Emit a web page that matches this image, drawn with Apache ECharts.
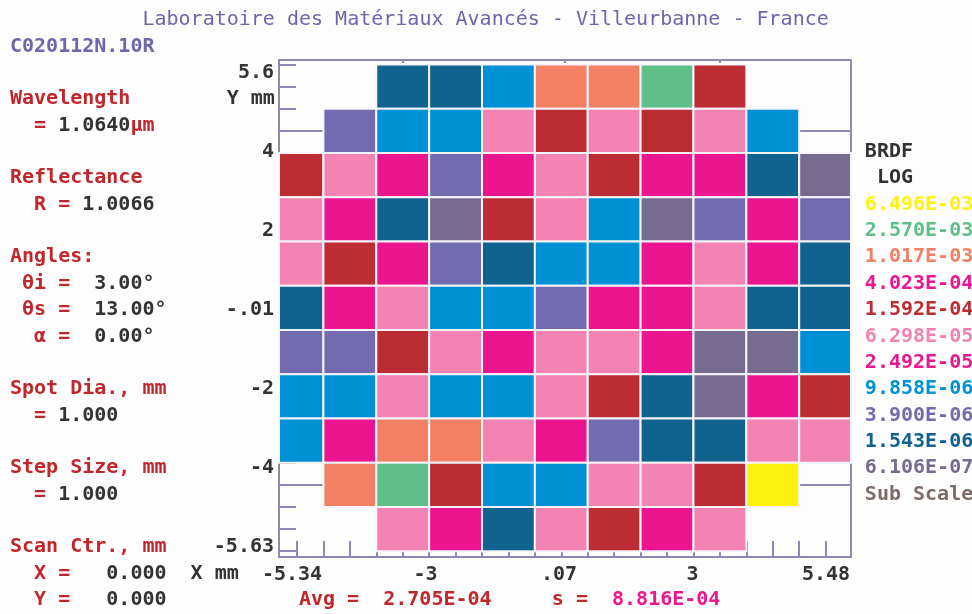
<!DOCTYPE html>
<html>
<head>
<meta charset="utf-8">
<script src="https://cdn.jsdelivr.net/npm/echarts@6/dist/echarts.min.js"></script>
<style>
html,body{margin:0;padding:0;background:#fdfdfd;}
#c{width:972px;height:614px;}
</style>
</head>
<body>
<div id="c"></div>
<script>
// ---------------- data ----------------
const xCenters = [-5, -4, -3, -2, -1, 0, 1, 2, 3, 4, 5];   // mm
const yCenters = [5, 4, 3, 2, 1, 0, -1, -2, -3, -4, -5];   // mm (top row first)

// BRDF values per row (top row y=5 first), null = not measured
const row_y5  = [null, null, 1.543e-6, 1.543e-6, 9.858e-6, 1.017e-3, 1.017e-3, 2.570e-3, 1.592e-4, null, null];
const row_y4  = [null, 3.900e-6, 9.858e-6, 9.858e-6, 6.298e-5, 1.592e-4, 6.298e-5, 1.592e-4, 6.298e-5, 9.858e-6, null];
const row_y3  = [1.592e-4, 6.298e-5, 4.023e-4, 3.900e-6, 4.023e-4, 6.298e-5, 1.592e-4, 4.023e-4, 4.023e-4, 1.543e-6, 6.106e-7];
const row_y2  = [6.298e-5, 4.023e-4, 1.543e-6, 6.106e-7, 1.592e-4, 6.298e-5, 9.858e-6, 6.106e-7, 3.900e-6, 4.023e-4, 3.900e-6];
const row_y1  = [6.298e-5, 1.592e-4, 4.023e-4, 3.900e-6, 1.543e-6, 9.858e-6, 9.858e-6, 4.023e-4, 6.298e-5, 4.023e-4, 1.543e-6];
const row_y0  = [1.543e-6, 4.023e-4, 6.298e-5, 9.858e-6, 9.858e-6, 3.900e-6, 4.023e-4, 4.023e-4, 6.298e-5, 1.543e-6, 1.543e-6];
const row_ym1 = [3.900e-6, 3.900e-6, 1.592e-4, 6.298e-5, 4.023e-4, 6.298e-5, 6.298e-5, 4.023e-4, 6.106e-7, 6.106e-7, 9.858e-6];
const row_ym2 = [9.858e-6, 9.858e-6, 6.298e-5, 9.858e-6, 9.858e-6, 6.298e-5, 1.592e-4, 1.543e-6, 6.106e-7, 4.023e-4, 1.592e-4];
const row_ym3 = [9.858e-6, 4.023e-4, 1.017e-3, 1.017e-3, 6.298e-5, 4.023e-4, 3.900e-6, 1.543e-6, 1.543e-6, 6.298e-5, 6.298e-5];
const row_ym4 = [null, 1.017e-3, 2.570e-3, 1.592e-4, 9.858e-6, 9.858e-6, 6.298e-5, 6.298e-5, 1.592e-4, 6.496e-3, null];
const row_ym5 = [null, null, 6.298e-5, 4.023e-4, 1.543e-6, 6.298e-5, 1.592e-4, 4.023e-4, 6.298e-5, null, null];
const rows = [row_y5, row_y4, row_y3, row_y2, row_y1, row_y0, row_ym1, row_ym2, row_ym3, row_ym4, row_ym5];

// log legend levels
const levelValues = [6.496e-3, 2.570e-3, 1.017e-3, 4.023e-4, 1.592e-4, 6.298e-5, 2.492e-5, 9.858e-6, 3.900e-6, 1.543e-6, 6.106e-7];
const levelLabels = ['6.496E-03', '2.570E-03', '1.017E-03', '4.023E-04', '1.592E-04', '6.298E-05', '2.492E-05', '9.858E-06', '3.900E-06', '1.543E-06', '6.106E-07'];
const levelColors = ['#fff10f', '#5fbf89', '#f38063', '#ec1590', '#bb2d32', '#f283b2', '#e8188f', '#0090d6', '#736bb0', '#10628f', '#776c8f'];

// axes
const xRange = [-5.34, 5.48];
const yRange = [-5.63, 5.6];
const xTickLabels = ['-5.34', '-3', '.07', '3', '5.48'];
const yTickLabels = ['-5.63', '-4', '-2', '-.01', '2', '4', '5.6'];
const xMinorTicks = [-5, -4.5, -4, -3.5, -3, -2.5, -2, -1.5, -1, -0.5, 0, 0.5, 1, 1.5, 2, 2.5, 3, 3.5, 4, 4.5, 5];
const yMinorTicks = [-5.5, -5, -4.5, -4, -3.5, -3, -2.5, -2, -1.5, -1, -0.5, 0, 0.5, 1, 1.5, 2, 2.5, 3, 3.5, 4, 4.5, 5, 5.5];
const yMajorTicks = [-4, 4];
const xTopTicks = [-3, 0.07, 3];

// ---------------- build ----------------
const FONT = "'DejaVu Sans Mono', 'Liberation Mono', monospace";
const FRAME = '#8f87b3';
const RED = '#c0272d', DARK = '#333333', PURP = '#6d66ab', MAG = '#e8188f';

function colorOf(v) {
  for (let i = 0; i < levelValues.length; i++) {
    if (v >= levelValues[i] * 0.999) return levelColors[i];
  }
  return '#7d6d69';
}

const cells = [];
rows.forEach((row, r) => {
  row.forEach((v, c) => {
    if (v !== null) cells.push([xCenters[c], yCenters[r], v]);
  });
});

const chart = echarts.init(document.getElementById('c'), null, {renderer: 'canvas'});

const CW = 12.04, LH = 26.36;
function rs(c, w) { return {fill: c, color: c, fontFamily: FONT, fontSize: 20, fontWeight: w || 'bold'}; }
const RICH = {r: rs(RED), k: rs(DARK), p: rs(PURP), m: rs(MAG), t0: rs(PURP, 'normal')};
function line(col, ln, text) {
  return {
    type: 'text', x: 10 + col * CW, y: 20 + ln * LH, z: 10,
    style: {text: text, rich: RICH, fontFamily: FONT, fontSize: 20, fill: DARK, textVerticalAlign: 'middle', verticalAlign: 'middle'}
  };
}

const graphics = [
  line(11, 0, '{t0|Laboratoire des Matériaux Avancés - Villeurbanne - France}'),
  line(0, 1, '{p|C020112N.10R}'),
  line(0, 3, '{r|Wavelength}'),
  line(0, 4, '{r|  = }{k|1.0640}{r|μm}'),
  line(0, 6, '{r|Reflectance}'),
  line(0, 7, '{r|  R = }{k|1.0066}'),
  line(0, 9, '{r|Angles:}'),
  line(0, 10, '{r| θi =  }{k|3.00°}'),
  line(0, 11, '{r| θs =  }{k|13.00°}'),
  line(0, 12, '{r|  α =  }{k|0.00°}'),
  line(0, 14, '{r|Spot Dia., mm}'),
  line(0, 15, '{r|  = }{k|1.000}'),
  line(0, 17, '{r|Step Size, mm}'),
  line(0, 18, '{r|  = }{k|1.000}'),
  line(0, 20, '{r|Scan Ctr., mm}'),
  line(0, 21, '{r|  X =   }{k|0.000}'),
  line(0, 22, '{r|  Y =   }{k|0.000}'),
  line(15, 21, '{k|X mm}'),
  line(18, 3, '{k|Y mm}'),
  line(24, 22, '{r|Avg =  2.705E-04     s =  }{m|8.816E-04}'),
  line(71, 5, '{k|BRDF}'),
  line(72, 6, '{k|LOG}')
];
levelLabels.forEach((lab, i) => {
  const g = line(71, 7 + i, lab);
  g.style.rich = {t: rs(levelColors[i])};
  g.style.text = '{t|' + lab + '}';
  graphics.push(g);
});
graphics.push(line(71, 18, '{s|Sub Scale}'));
graphics[graphics.length - 1].style.rich = {s: rs('#7d6d69')};

const baseAxis = {
  axisLabel: {show: false},
  splitLine: {show: false},
  axisLine: {show: true, onZero: false, lineStyle: {color: FRAME, width: 2}},
};

const option = {
  backgroundColor: '#fdfdfd',
  animation: false,
  grid: [
    {left: 279, right: 121, top: 60, bottom: 57, containLabel: false},
    {left: 292, right: 146, top: 73, bottom: 67, containLabel: false}
  ],
  xAxis: [
    Object.assign({}, baseAxis, {
      type: 'value', gridIndex: 0, position: 'bottom', min: xRange[0], max: xRange[1],
      axisTick: {show: true, inside: true, length: 16, customValues: xMinorTicks, lineStyle: {color: FRAME, width: 2}}
    }),
    Object.assign({}, baseAxis, {
      type: 'value', gridIndex: 0, position: 'top', min: xRange[0], max: xRange[1],
      axisTick: {show: true, inside: true, length: 3, customValues: xTopTicks, lineStyle: {color: FRAME, width: 2}}
    }),
    {
      type: 'category', gridIndex: 1, position: 'bottom', data: xTickLabels, boundaryGap: false,
      axisLine: {show: false}, axisTick: {show: false}, splitLine: {show: false},
      axisLabel: {show: true, interval: 0, margin: 18, color: DARK, fontFamily: FONT, fontSize: 20, fontWeight: 'bold', hideOverlap: false}
    }
  ],
  yAxis: [
    Object.assign({}, baseAxis, {
      type: 'value', gridIndex: 0, position: 'left', min: yRange[0], max: yRange[1],
      axisTick: {show: true, inside: true, length: 17, customValues: yMinorTicks, lineStyle: {color: FRAME, width: 2}}
    }),
    Object.assign({}, baseAxis, {
      type: 'value', gridIndex: 0, position: 'right', min: yRange[0], max: yRange[1],
      axisTick: {show: true, inside: true, length: 52, customValues: yMajorTicks, lineStyle: {color: FRAME, width: 2}}
    }),
    Object.assign({}, baseAxis, {
      type: 'value', gridIndex: 0, position: 'left', min: yRange[0], max: yRange[1],
      axisTick: {show: true, inside: true, length: 45, customValues: yMajorTicks, lineStyle: {color: FRAME, width: 2}}
    }),
    {
      type: 'category', gridIndex: 1, position: 'left', data: yTickLabels, boundaryGap: false,
      axisLine: {show: false}, axisTick: {show: false}, splitLine: {show: false},
      axisLabel: {show: true, interval: 0, margin: 18, color: DARK, fontFamily: FONT, fontSize: 20, fontWeight: 'bold', hideOverlap: false}
    }
  ],
  series: [{
    type: 'custom',
    xAxisIndex: 0,
    yAxisIndex: 0,
    data: cells,
    z: 5,
    renderItem: function (params, api) {
      const x = api.value(0), y = api.value(1), v = api.value(2);
      const p0 = api.coord([x - 0.5, y + 0.5]);
      const p1 = api.coord([x + 0.5, y - 0.5]);
      const cs = params.coordSys;
      const rect = echarts.graphic.clipRectByRect(
        {x: p0[0], y: p0[1], width: p1[0] - p0[0], height: p1[1] - p0[1]},
        {x: cs.x, y: cs.y, width: cs.width, height: cs.height}
      );
      if (!rect) return;
      return {
        type: 'rect',
        shape: rect,
        style: {fill: colorOf(v), stroke: '#f6f4fa', lineWidth: 2}
      };
    }
  }],
  graphic: graphics
};

chart.setOption(option);
</script>
</body>
</html>
